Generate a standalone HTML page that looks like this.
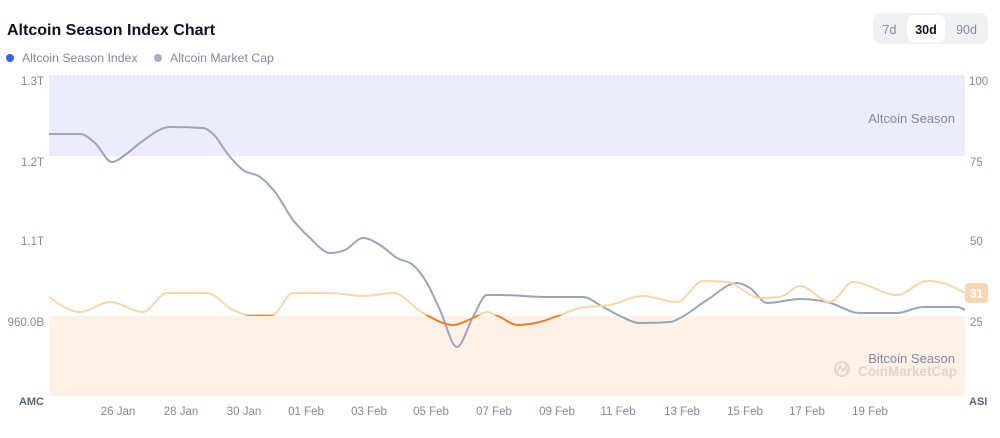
<!DOCTYPE html>
<html><head><meta charset="utf-8"><style>
html,body{margin:0;padding:0;background:#fff;}
svg{display:block;font-family:"Liberation Sans",Arial,sans-serif;}
</style></head><body>
<svg id="c" width="1000" height="438" viewBox="0 0 1000 438" xmlns="http://www.w3.org/2000/svg">
<defs>
<clipPath id="btc"><rect x="40" y="315" width="940" height="100"/></clipPath>
</defs>
<text x="7" y="35" font-size="16" font-weight="bold" fill="#0d1421">Altcoin Season Index Chart</text>
<circle cx="10" cy="58" r="4" fill="#3861fb"/>
<text x="22" y="62" font-size="12.3" fill="#808a9d">Altcoin Season Index</text>
<circle cx="158" cy="58" r="4" fill="#a6b0c3"/>
<text x="170" y="62" font-size="12.3" fill="#808a9d">Altcoin Market Cap</text>
<rect x="873" y="13" width="115" height="31" rx="8" fill="#eff2f5"/>
<rect x="907" y="15" width="38" height="27" rx="7" fill="#fff"/>
<text x="889.5" y="34" font-size="12.5" fill="#808a9d" text-anchor="middle">7d</text>
<text x="926" y="34" font-size="12.5" font-weight="bold" fill="#0d1421" text-anchor="middle">30d</text>
<text x="966.5" y="34" font-size="12.5" fill="#808a9d" text-anchor="middle">90d</text>
<rect x="49" y="76" width="916" height="80" fill="#ebedfd"/>
<rect x="49" y="316" width="916" height="80" fill="#fdf1e8"/>
<line x1="49" y1="75.5" x2="965" y2="75.5" stroke="#e3e5ee" stroke-width="1" stroke-dasharray="2,2"/>
<text x="955" y="123" font-size="13" fill="#808a9d" text-anchor="end">Altcoin Season</text>
<text x="955" y="363" font-size="13" fill="#808a9d" text-anchor="end">Bitcoin Season</text>
<circle cx="842" cy="369" r="7" fill="none" stroke="#ddd5ce" stroke-width="2"/>
<path d="M837 372 L840 366 L843 371 L846 366 L847 372" fill="none" stroke="#ddd5ce" stroke-width="1.6"/>
<text x="957" y="376" font-size="13.5" font-weight="bold" fill="#ddd5ce" text-anchor="end">CoinMarketCap</text>
<g font-size="11.5" fill="#808a9d" text-anchor="end">
<text x="44" y="85">1.3T</text>
<text x="44" y="166">1.2T</text>
<text x="44" y="245">1.1T</text>
<text x="44" y="326">960.0B</text>
</g>
<g font-size="11.5" fill="#808a9d">
<text x="969" y="85">100</text>
<text x="970" y="166">75</text>
<text x="970" y="245">50</text>
<text x="970" y="326">25</text>
</g>
<text x="44" y="405" font-size="11" font-weight="bold" fill="#58667e" text-anchor="end">AMC</text>
<text x="969" y="405" font-size="11" font-weight="bold" fill="#58667e">ASI</text>
<g font-size="11.5" fill="#808a9d" text-anchor="middle">
<text x="118" y="415">26 Jan</text>
<text x="181" y="415">28 Jan</text>
<text x="244" y="415">30 Jan</text>
<text x="306" y="415">01 Feb</text>
<text x="369" y="415">03 Feb</text>
<text x="431" y="415">05 Feb</text>
<text x="494" y="415">07 Feb</text>
<text x="557" y="415">09 Feb</text>
<text x="618" y="415">11 Feb</text>
<text x="682" y="415">13 Feb</text>
<text x="745" y="415">15 Feb</text>
<text x="807" y="415">17 Feb</text>
<text x="870" y="415">19 Feb</text>
</g>
<path id="gray" fill="none" stroke="#9ba4bb" stroke-width="2" stroke-linejoin="round" d="M49 134 L80 134 L112 162 L140 143 L170 127 L203 128 L227 153 L243 170 L260 177 L293 220 L330 253 L363 238 L397 258 L413 265 L427 283 L440 310 L457 347 L473 317 L487 295 L547 297 L583 297 L603 307 L640 323 L680 318 L707 300 L737 283 L767 303 L800 299 L827 302 L860 313 L897 313 L923 307 L957 307 L965 310"/>
<path id="or1" fill="none" stroke="#f8d6ae" stroke-width="2" d=""/>
<path id="or2" fill="none" stroke="#e8832f" stroke-width="2" clip-path="url(#btc)" d=""/>
<rect x="965" y="283" width="23" height="20" rx="4" fill="#f6d6b3"/>
<text x="976.5" y="297.5" font-size="12" font-weight="bold" fill="#fff" text-anchor="middle">31</text>
</svg>
<script>
function sgn(v){return v<0?-1:(v>0?1:0);}
function mono(p){var n=p.length,t=[],i;
for(i=0;i<n;i++){
 if(i==0||i==n-1){t.push(null);continue;}
 var h0=p[i][0]-p[i-1][0],h1=p[i+1][0]-p[i][0];
 var s0=(p[i][1]-p[i-1][1])/h0,s1=(p[i+1][1]-p[i][1])/h1;
 var pp=(s0*h1+s1*h0)/(h0+h1);
 t.push((sgn(s0)+sgn(s1))*Math.min(Math.abs(s0),Math.abs(s1),0.5*Math.abs(pp))||0);}
var h=p[1][0]-p[0][0];t[0]=(3*(p[1][1]-p[0][1])/h-t[1])/2;
h=p[n-1][0]-p[n-2][0];t[n-1]=(3*(p[n-1][1]-p[n-2][1])/h-t[n-2])/2;
var d="M"+p[0][0]+" "+p[0][1];
for(i=0;i<n-1;i++){var dx=(p[i+1][0]-p[i][0])/3;
d+=" C"+(p[i][0]+dx).toFixed(2)+" "+(p[i][1]+dx*t[i]).toFixed(2)+" "+(p[i+1][0]-dx).toFixed(2)+" "+(p[i+1][1]-dx*t[i+1]).toFixed(2)+" "+p[i+1][0]+" "+p[i+1][1];}
return d;}
var g=[[49,134],[80,134],[95,143],[112,162],[125,155],[140,143],[170,127],[203,128],[215,136],[227,153],[243,170],[260,177],[275,192],[293,220],[310,238],[330,253],[345,250],[363,238],[380,245],[397,258],[413,265],[427,283],[440,310],[457,347],[473,317],[487,295],[500,295],[547,297],[583,297],[603,307],[620,316],[640,323],[670,322],[680,318],[707,300],[737,283],[750,288],[767,303],[800,299],[827,302],[860,313],[897,313],[923,307],[957,307],[965,310]];
var o=[[49,297],[80,312],[110,302],[143,312],[167,293],[207,293],[233,310],[250,315],[272,315],[293,293],[330,293],[363,296],[393,293],[423,313],[453,325],[473,318],[487,312],[500,317],[517,325],[540,322],[560,315],[580,308],[610,305],[643,296],[677,302],[703,281],[727,282],[760,298],[780,297],[800,286],[830,302],[853,282],[897,295],[927,281],[943,283],[965,293]];
document.getElementById("gray").setAttribute("d",mono(g));
var od=mono(o);document.getElementById("or1").setAttribute("d",od);document.getElementById("or2").setAttribute("d",od);
</script>
</body></html>
